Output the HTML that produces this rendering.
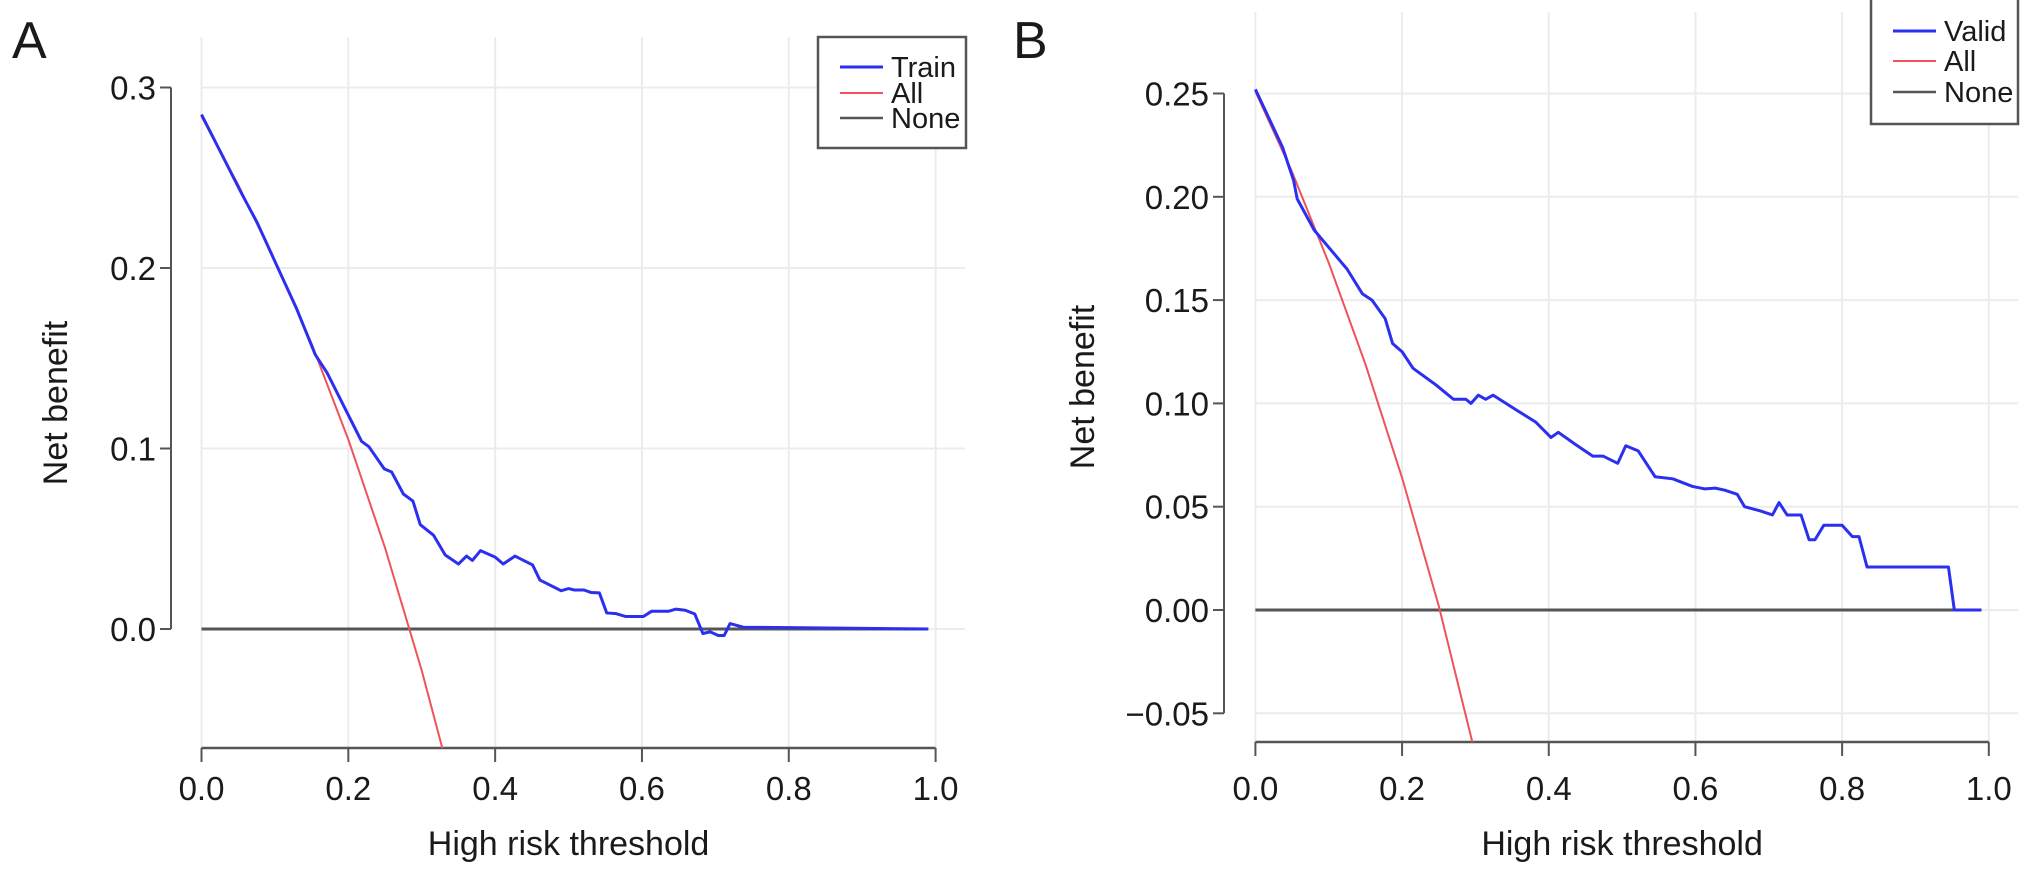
<!DOCTYPE html>
<html><head><meta charset="utf-8">
<style>
html,body{margin:0;padding:0;background:#fff;}
svg{display:block;}
text{font-family:"Liberation Sans Narrow","Liberation Sans",sans-serif;fill:#1a1a1a;}
</style></head>
<body>
<svg id="chart" width="2032" height="874" viewBox="0 0 2032 874" xmlns="http://www.w3.org/2000/svg">
<rect width="2032" height="874" fill="#fff"/>
</svg>
<script>
// ---- Panel A data ----
const trainX = [0,0.055,0.076,0.103,0.129,0.155,0.171,0.218,0.228,0.249,0.259,0.275,0.288,0.298,0.316,0.332,0.350,0.361,0.369,0.380,0.400,0.411,0.427,0.451,0.461,0.490,0.500,0.508,0.521,0.531,0.542,0.552,0.565,0.578,0.602,0.613,0.636,0.646,0.659,0.672,0.683,0.693,0.704,0.712,0.720,0.738,0.818,0.99];
const trainY = [0.285,0.241,0.225,0.201,0.178,0.152,0.142,0.104,0.101,0.0887,0.087,0.0748,0.0709,0.0578,0.052,0.041,0.036,0.0404,0.038,0.0434,0.0398,0.036,0.0404,0.0355,0.0271,0.0212,0.0224,0.0216,0.0216,0.0202,0.020,0.0089,0.0085,0.0069,0.0069,0.0098,0.0098,0.011,0.0104,0.0083,-0.0025,-0.0016,-0.0036,-0.0036,0.003,0.001,0.0007,0];
const allAX = [0,0.05,0.1,0.15,0.2,0.25,0.3,0.33];
const allAY = [0.284,0.246,0.204,0.158,0.105,0.045,-0.023,-0.069];
const yTicksA = [0.0,0.1,0.2,0.3];
const yTickLabelsA = ["0.0","0.1","0.2","0.3"];
// ---- Panel B data ----
const validX = [0,0.037,0.052,0.057,0.080,0.087,0.125,0.146,0.159,0.177,0.187,0.200,0.215,0.246,0.270,0.287,0.294,0.304,0.314,0.324,0.355,0.382,0.403,0.413,0.437,0.460,0.474,0.494,0.505,0.522,0.545,0.569,0.596,0.613,0.627,0.640,0.657,0.667,0.688,0.705,0.714,0.725,0.744,0.755,0.763,0.775,0.800,0.814,0.823,0.834,0.945,0.953,0.99];
const validY = [0.252,0.224,0.208,0.199,0.184,0.181,0.165,0.153,0.150,0.141,0.129,0.125,0.117,0.109,0.102,0.102,0.100,0.104,0.102,0.104,0.097,0.091,0.0835,0.086,0.080,0.0745,0.0745,0.071,0.0795,0.077,0.0645,0.0635,0.0598,0.0586,0.059,0.058,0.056,0.050,0.048,0.046,0.052,0.046,0.046,0.034,0.034,0.041,0.041,0.0355,0.0355,0.0208,0.0208,0,0];
const allBX = [0,0.05,0.1,0.15,0.2,0.25,0.3];
const allBY = [0.251,0.212,0.168,0.119,0.064,0.002,-0.070];
const yTicksB = [-0.05,0.00,0.05,0.10,0.15,0.20,0.25];
const yTickLabelsB = ["\u22120.05","0.00","0.05","0.10","0.15","0.20","0.25"];
const xTicks = [0,0.2,0.4,0.6,0.8,1.0];
const xTickLabels = ["0.0","0.2","0.4","0.6","0.8","1.0"];

const NS = "http://www.w3.org/2000/svg";
const svg = document.getElementById('chart');
function mk(tag, attrs, parent){
  const e = document.createElementNS(NS, tag);
  for (const k in attrs) e.setAttribute(k, attrs[k]);
  (parent||svg).appendChild(e);
  return e;
}

function panel(cfg){
  const g = mk('g', {});
  
  
  const sx = v => cfg.x0 + v*(cfg.x1-cfg.x0);
  const sy = v => cfg.yZero - v*cfg.yScale;
  const clipId = cfg.name + '-clip';
  const cp = mk('clipPath', {id: clipId}, g);
  mk('rect', {x: cfg.x0-20, y: 0, width: cfg.gridRight - cfg.x0 + 20, height: cfg.axisY - 0}, cp);
  const grid = mk('g', {}, g);
  
  
  xTicks.forEach(t => {
    mk('line', {x1: sx(t), x2: sx(t), y1: cfg.gridTop, y2: cfg.axisY, stroke: '#ececec', 'stroke-width': 2}, grid);
  });
  cfg.yTicks.forEach(t => {
    mk('line', {x1: cfg.x0, x2: cfg.gridRight, y1: sy(t), y2: sy(t), stroke: '#ececec', 'stroke-width': 2}, grid);
  });
  const ya = mk('g', {}, g);
  
  
  const yMin = Math.min(...cfg.yTicks), yMax = Math.max(...cfg.yTicks);
  mk('line', {x1: cfg.yAxisX, x2: cfg.yAxisX, y1: sy(yMax), y2: sy(yMin), stroke: '#555', 'stroke-width': 2}, ya);
  cfg.yTicks.forEach((t, i) => {
    mk('line', {x1: cfg.yAxisX-11, x2: cfg.yAxisX, y1: sy(t), y2: sy(t), stroke: '#555', 'stroke-width': 2}, ya);
    const tx = mk('text', {x: cfg.yAxisX-15, y: sy(t)+12, 'text-anchor': 'end', 'font-size': 33}, ya);
    
    
    tx.textContent = cfg.yLabels[i];
  });
  const xa = mk('g', {}, g);
  
  
  mk('line', {x1: sx(0), x2: sx(1), y1: cfg.axisY, y2: cfg.axisY, stroke: '#555', 'stroke-width': 2.5}, xa);
  xTicks.forEach((t, i) => {
    mk('line', {x1: sx(t), x2: sx(t), y1: cfg.axisY, y2: cfg.axisY+14, stroke: '#555', 'stroke-width': 2}, xa);
    const tx = mk('text', {x: sx(t), y: 800, 'text-anchor': 'middle', 'font-size': 33}, xa);
    
    
    tx.textContent = xTickLabels[i];
  });
  const xt = mk('text', {x: (sx(0)+sx(1))/2, y: 855, 'text-anchor': 'middle', 'font-size': 34}, g);
  
  
  xt.textContent = 'High risk threshold';
  const yt = mk('text', {x: 0, y: 0, 'text-anchor': 'middle', 'font-size': 34, transform: `translate(${cfg.yTitleX},${cfg.yTitleY}) rotate(-90)`}, g);
  
  
  yt.textContent = 'Net benefit';
  const pl = mk('text', {x: cfg.letterX, y: 58, 'font-size': 52}, g);
  
  
  pl.textContent = cfg.letter;
  const series = mk('g', {'clip-path': `url(#${clipId})`}, g);
  
  
  const none = mk('line', {x1: sx(0), x2: sx(0.99), y1: sy(0), y2: sy(0), stroke: '#555', 'stroke-width': 3}, series);
  
  
  const allP = mk('polyline', {points: cfg.allX.map((x,i)=>sx(x)+','+sy(cfg.allY[i])).join(' '), fill: 'none', stroke: '#f0525a', 'stroke-width': 2}, series);
  
  
  const mP = mk('polyline', {points: cfg.mX.map((x,i)=>sx(x)+','+sy(cfg.mY[i])).join(' '), fill: 'none', stroke: '#2b2ff0', 'stroke-width': 3, 'stroke-linejoin': 'round'}, series);
  
  
  const lg = mk('g', {}, g);
  
  
  mk('rect', {x: cfg.lgX, y: cfg.lgY, width: cfg.lgW, height: cfg.lgH, fill: '#fff', stroke: '#555', 'stroke-width': 2.5}, lg);
  const entries = [[cfg.mLabel, '#2b2ff0', 3], ['All', '#f0525a', 2], ['None', '#555', 2.5]];
  entries.forEach((en, i) => {
    const ey = cfg.lgEntryY[i];
    const eg = mk('g', {}, lg);
    
    
    mk('line', {x1: cfg.lgLineX, x2: cfg.lgLineX+43, y1: ey, y2: ey, stroke: en[1], 'stroke-width': en[2]}, eg);
    const t = mk('text', {x: cfg.lgLineX+51, y: ey+10, 'font-size': 29}, eg);
    t.textContent = en[0];
  });
}

panel({name:'panel-a', letter:'A', letterX:12, x0:201.5, x1:935.6, yZero:629, yScale:1805, axisY:748, gridTop:37, gridRight:965,
  yAxisX:171, yTicks:yTicksA, yLabels:yTickLabelsA, yTitleX:67, yTitleY:403,
  allX:allAX, allY:allAY, mX:trainX, mY:trainY, mName:'train', mLabel:'Train',
  lgX:818, lgY:37, lgW:148, lgH:111, lgLineX:840, lgEntryY:[67,93,118]});
panel({name:'panel-b', letter:'B', letterX:1013, x0:1255.4, x1:1988.8, yZero:610, yScale:2066, axisY:742, gridTop:12, gridRight:2018,
  yAxisX:1224, yTicks:yTicksB, yLabels:yTickLabelsB, yTitleX:1094, yTitleY:387,
  allX:allBX, allY:allBY, mX:validX, mY:validY, mName:'valid', mLabel:'Valid',
  lgX:1871, lgY:-5, lgW:147, lgH:129, lgLineX:1893, lgEntryY:[31,61,92]});
</script>
</body></html>
